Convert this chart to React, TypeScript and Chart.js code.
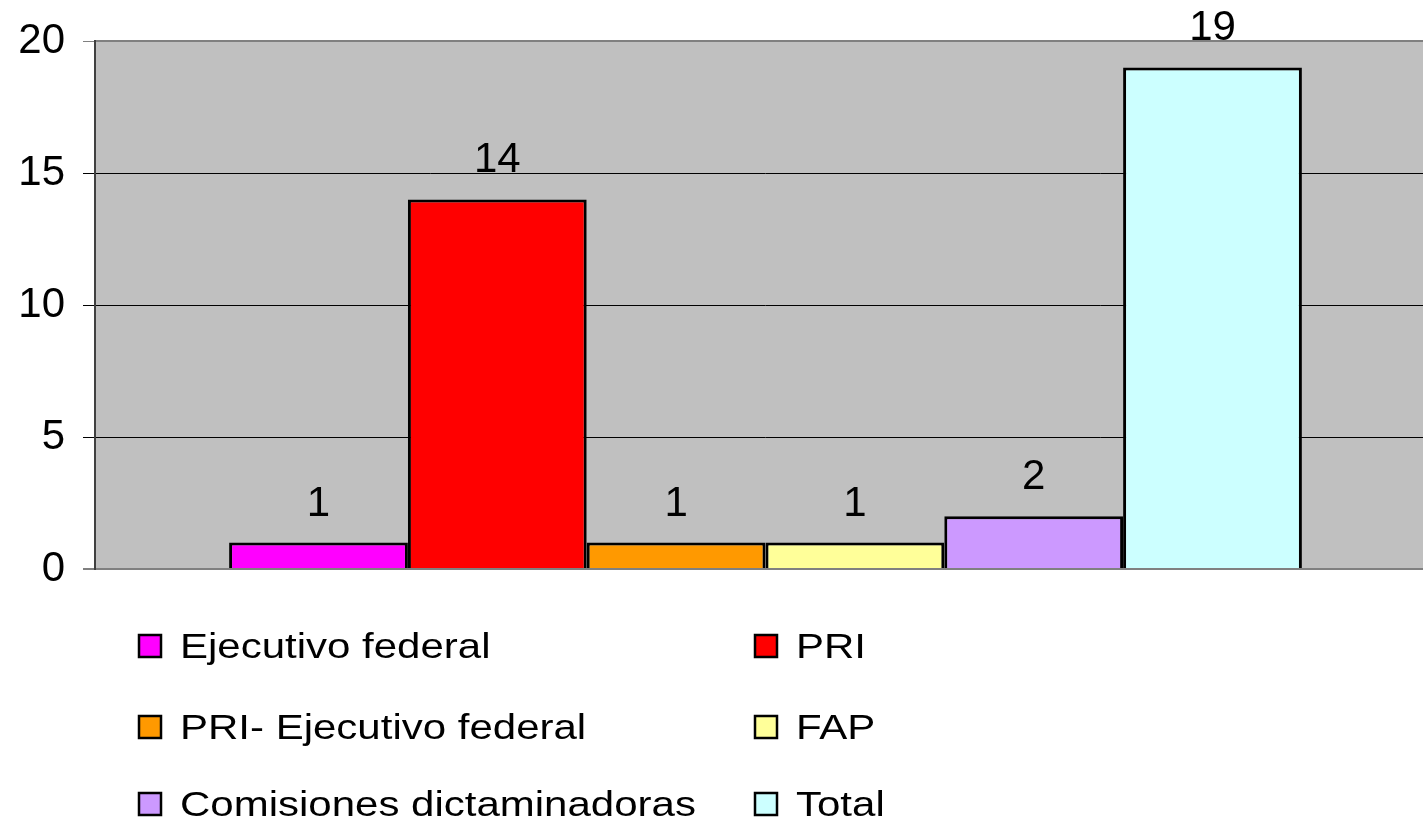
import React, { useEffect, useRef } from "react";
import { Chart, registerables } from "chart.js";

Chart.register(...registerables);

const categories = [""];
const seriesNames = [
  "Ejecutivo federal",
  "PRI",
  "PRI- Ejecutivo federal",
  "FAP",
  "Comisiones dictaminadoras",
  "Total",
];
const seriesValues = [1, 14, 1, 1, 2, 19];
const seriesColors = ["#FF00FF", "#FF0000", "#FF9900", "#FFFF99", "#CC99FF", "#CCFFFF"];
const yTicks = [0, 5, 10, 15, 20];

const FONT = "'Liberation Sans', Arial, sans-serif";

const plotBgPlugin = {
  id: "plotBg",
  beforeDraw(chart: any) {
    const { ctx, chartArea } = chart;
    const { left, top, right, bottom } = chartArea;
    ctx.save();
    ctx.fillStyle = "#C0C0C0";
    ctx.fillRect(left, top, right - left, bottom - top);
    ctx.restore();
  },
  afterDraw(chart: any) {
    const { ctx, chartArea } = chart;
    const { left, top, right, bottom } = chartArea;
    ctx.save();
    ctx.lineWidth = 2;
    ctx.strokeStyle = "#808080";
    ctx.beginPath();
    ctx.moveTo(left, top);
    ctx.lineTo(right, top);
    ctx.moveTo(left - 12, bottom);
    ctx.lineTo(right, bottom);
    ctx.stroke();
    ctx.strokeStyle = "#404040";
    ctx.beginPath();
    ctx.moveTo(left, top - 1);
    ctx.lineTo(left, bottom + 1);
    ctx.stroke();
    ctx.restore();
  },
};

const dataLabelPlugin = {
  id: "dataLabels",
  afterDatasetsDraw(chart: any) {
    const { ctx } = chart;
    ctx.save();
    ctx.font = `42px ${FONT}`;
    ctx.fillStyle = "#000";
    ctx.textAlign = "center";
    ctx.textBaseline = "alphabetic";
    chart.data.datasets.forEach((ds: any, i: number) => {
      const meta = chart.getDatasetMeta(i);
      meta.data.forEach((bar: any, j: number) => {
        ctx.fillText(String(ds.data[j]), bar.x, bar.y - 27);
      });
    });
    ctx.restore();
  },
};

const legendPlugin = {
  id: "customLegend",
  afterDraw(chart: any) {
    const { ctx } = chart;
    const colX = [139, 755];
    const rowY = [646, 727, 804];
    const textScale = 1.2;
    chart.data.datasets.forEach((ds: any, i: number) => {
      const col = i % 2;
      const row = Math.floor(i / 2);
      const x = colX[col];
      const y = rowY[row];
      ctx.save();
      ctx.fillStyle = ds.backgroundColor;
      ctx.fillRect(x, y - 11, 22, 22);
      ctx.lineWidth = 2.5;
      ctx.strokeStyle = "#000";
      ctx.strokeRect(x, y - 11, 22, 22);
      ctx.restore();
      ctx.save();
      ctx.font = `35px ${FONT}`;
      ctx.textBaseline = "alphabetic";
      ctx.textAlign = "left";
      ctx.fillStyle = "#000";
      ctx.translate(x + 41, y + 12);
      ctx.scale(textScale, 1);
      ctx.fillText(ds.label, 0, 0);
      ctx.restore();
    });
  },
};

export default function App() {
  const canvasRef = useRef<HTMLCanvasElement | null>(null);

  useEffect(() => {
    document.body.style.margin = "0";
    document.body.style.overflow = "hidden";
    const canvas = canvasRef.current;
    if (!canvas) return;
    const chart = new Chart(canvas, {
      type: "bar",
      data: {
        labels: categories,
        datasets: seriesNames.map((name, i) => ({
          label: name,
          data: [seriesValues[i]],
          backgroundColor: seriesColors[i],
          borderColor: "#000",
          borderWidth: 3,
          categoryPercentage: 0.8,
          barPercentage: 1,
        })),
      },
      options: {
        responsive: false,
        animation: false,
        devicePixelRatio: 1,
        layout: { padding: { top: 41, bottom: 256, left: 0, right: 0 } },
        plugins: {
          legend: { display: false },
          tooltip: { enabled: false },
        },
        scales: {
          x: {
            display: false,
          },
          y: {
            min: 0,
            max: 20,
            afterBuildTicks: (scale: any) => {
              scale.ticks = yTicks.map((v) => ({ value: v }));
            },
            afterFit: (scale: any) => {
              scale.width = 95;
              scale.paddingTop = 0;
              scale.paddingBottom = 0;
            },
            border: { display: false },
            grid: {
              color: (c: any) => (c.tick && (c.tick.value === 0 || c.tick.value === 20) ? "#808080" : "#000"),
              lineWidth: 1,
              tickLength: 12,
              drawTicks: true,
            },
            ticks: {
              color: "#000",
              font: { family: FONT, size: 42, lineHeight: 1 },
              padding: 18,
            },
          },
        },
      },
      plugins: [plotBgPlugin, dataLabelPlugin, legendPlugin],
    });
    return () => chart.destroy();
  }, []);

  return (
    <div style={{ width: 1423, height: 825, overflow: "hidden", position: "relative", background: "#fff" }}>
      <canvas ref={canvasRef} width={1436} height={825} style={{ display: "block", width: 1436, height: 825 }} />
    </div>
  );
}
